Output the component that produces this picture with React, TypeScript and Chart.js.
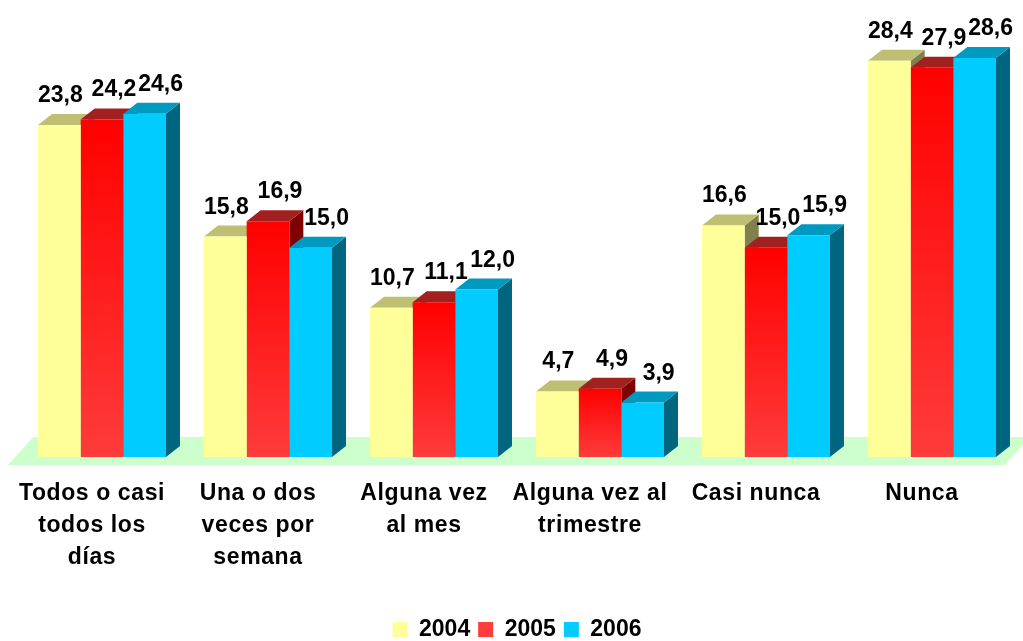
import React, { useEffect, useRef } from 'react';
import { Chart, registerables } from 'chart.js';

Chart.register(...registerables);

// ---- data ----
const categories: string[][] = [
  ['Todos o casi', 'todos los', 'días'],
  ['Una o dos', 'veces por', 'semana'],
  ['Alguna vez', 'al mes'],
  ['Alguna vez al', 'trimestre'],
  ['Casi nunca'],
  ['Nunca'],
];
const seriesNames = ['2004', '2005', '2006'];
const values2004 = [23.8, 15.8, 10.7, 4.7, 16.6, 28.4];
const values2005 = [24.2, 16.9, 11.1, 4.9, 15.0, 27.9];
const values2006 = [24.6, 15.0, 12.0, 3.9, 15.9, 28.6];
const yMax = 30;

// ---- styles ----
const FONT = 'Arial, "Liberation Sans", Helvetica, sans-serif';
const DX = 14;
const DY = 11;
const topColors = ['#BFBF73', '#A32020', '#0099BF'];
const sideColors = ['#80804D', '#800000', '#006680'];
const labelShift = [1, 12, 16];

const fmt = (v: number) => v.toFixed(1).replace('.', ',');

const redFront = (c: any) => {
  const chart = c.chart;
  if (!chart.chartArea || c.dataIndex === undefined || !chart.scales.y) return '#FF1010';
  const ys = chart.scales.y;
  const top = ys.getPixelForValue(c.raw);
  const bottom = ys.getPixelForValue(0);
  if (!isFinite(top) || !isFinite(bottom) || top === bottom) return '#FF1010';
  const g = chart.ctx.createLinearGradient(0, top, 0, bottom);
  g.addColorStop(0, '#FF0000');
  g.addColorStop(1, '#FF3B3B');
  return g;
};

const threeD = {
  id: 'threeD',
  beforeDatasetsDraw(chart: any) {
    const { ctx, chartArea: ca } = chart;
    const base = chart.scales.y.getPixelForValue(0);
    ctx.save();
    // floor
    ctx.fillStyle = '#CCFFCC';
    ctx.beginPath();
    ctx.moveTo(ca.left - 11, base + 8);
    ctx.lineTo(ca.right - 10, base + 8);
    ctx.lineTo(ca.right + 15, base - 20);
    ctx.lineTo(ca.left + 14, base - 20);
    ctx.closePath();
    ctx.fill();
    // side faces
    chart.data.datasets.forEach((_: any, di: number) => {
      const meta = chart.getDatasetMeta(di);
      meta.data.forEach((bar: any) => {
        const { x, y, base: b, width } = bar.getProps(['x', 'y', 'base', 'width'], true);
        const r = x + width / 2;
        ctx.fillStyle = sideColors[di];
        ctx.beginPath();
        ctx.moveTo(r, y);
        ctx.lineTo(r + DX, y - DY);
        ctx.lineTo(r + DX, b - DY);
        ctx.lineTo(r, b);
        ctx.closePath();
        ctx.fill();
      });
    });
    // top faces
    chart.data.datasets.forEach((_: any, di: number) => {
      const meta = chart.getDatasetMeta(di);
      meta.data.forEach((bar: any) => {
        const { x, y, width } = bar.getProps(['x', 'y', 'width'], true);
        const l = x - width / 2;
        const r = x + width / 2;
        ctx.fillStyle = topColors[di];
        ctx.beginPath();
        ctx.moveTo(l, y);
        ctx.lineTo(r, y);
        ctx.lineTo(r + DX, y - DY);
        ctx.lineTo(l + DX, y - DY);
        ctx.closePath();
        ctx.fill();
      });
    });
    ctx.restore();
  },
  afterDatasetsDraw(chart: any) {
    const { ctx } = chart;
    ctx.save();
    ctx.font = `bold 23px ${FONT}`;
    ctx.fillStyle = '#000000';
    ctx.textAlign = 'center';
    ctx.textBaseline = 'alphabetic';
    chart.data.datasets.forEach((ds: any, di: number) => {
      const meta = chart.getDatasetMeta(di);
      meta.data.forEach((bar: any, i: number) => {
        const { x, y } = bar.getProps(['x', 'y'], true);
        ctx.fillText(fmt(ds.data[i]), x + labelShift[di], y - 23);
      });
    });
    ctx.restore();
  },
  afterDraw(chart: any) {
    const { ctx } = chart;
    const xs = chart.scales.x;
    const base = chart.scales.y.getPixelForValue(0);
    ctx.save();
    ctx.font = `bold 23px ${FONT}`;
    try { (ctx as any).letterSpacing = '0.6px'; } catch (e) { /* ignore */ }
    ctx.fillStyle = '#000000';
    ctx.textAlign = 'center';
    ctx.textBaseline = 'alphabetic';
    categories.forEach((lines, i) => {
      const cx = xs.getPixelForValue(i) - 10;
      lines.forEach((t, k) => {
        ctx.fillText(t, cx, base + 43 + k * 32);
      });
    });
    ctx.restore();
  },
};

export default function App() {
  const ref = useRef<HTMLCanvasElement | null>(null);
  useEffect(() => {
    if (!ref.current) return;
    const chart = new Chart(ref.current, {
      type: 'bar',
      data: {
        labels: categories.map((c) => c.join(' ')),
        datasets: [
          { label: seriesNames[0], data: values2004, backgroundColor: '#FFFF99', borderWidth: 0 },
          { label: seriesNames[1], data: values2005, backgroundColor: redFront, borderWidth: 0 },
          { label: seriesNames[2], data: values2006, backgroundColor: '#00CCFF', borderWidth: 0 },
        ],
      },
      options: {
        animation: false,
        responsive: true,
        maintainAspectRatio: false,
        events: [],
        layout: { padding: { left: 19, right: 8, top: 38.5, bottom: -10 } },
        datasets: { bar: { categoryPercentage: 0.771, barPercentage: 1.0 } },
        scales: {
          x: {
            display: true,
            grid: { display: false },
            border: { display: false },
            ticks: { display: false },
            afterFit: (s: any) => {
              s.height = 153;
            },
          },
          y: { display: false, min: 0, max: yMax },
        },
        plugins: {
          tooltip: { enabled: false },
          legend: {
            position: 'bottom',
            labels: {
              boxWidth: 15,
              boxHeight: 15,
              padding: 8,
              color: '#000000',
              font: { family: FONT, size: 23, weight: 'bold' },
            },
          },
        },
      },
      plugins: [threeD],
    } as any);
    return () => chart.destroy();
  }, []);
  return (
    <div style={{ position: 'fixed', left: 0, top: 0, width: 1023, height: 641, background: '#FFFFFF' }}>
      <canvas ref={ref} />
    </div>
  );
}
